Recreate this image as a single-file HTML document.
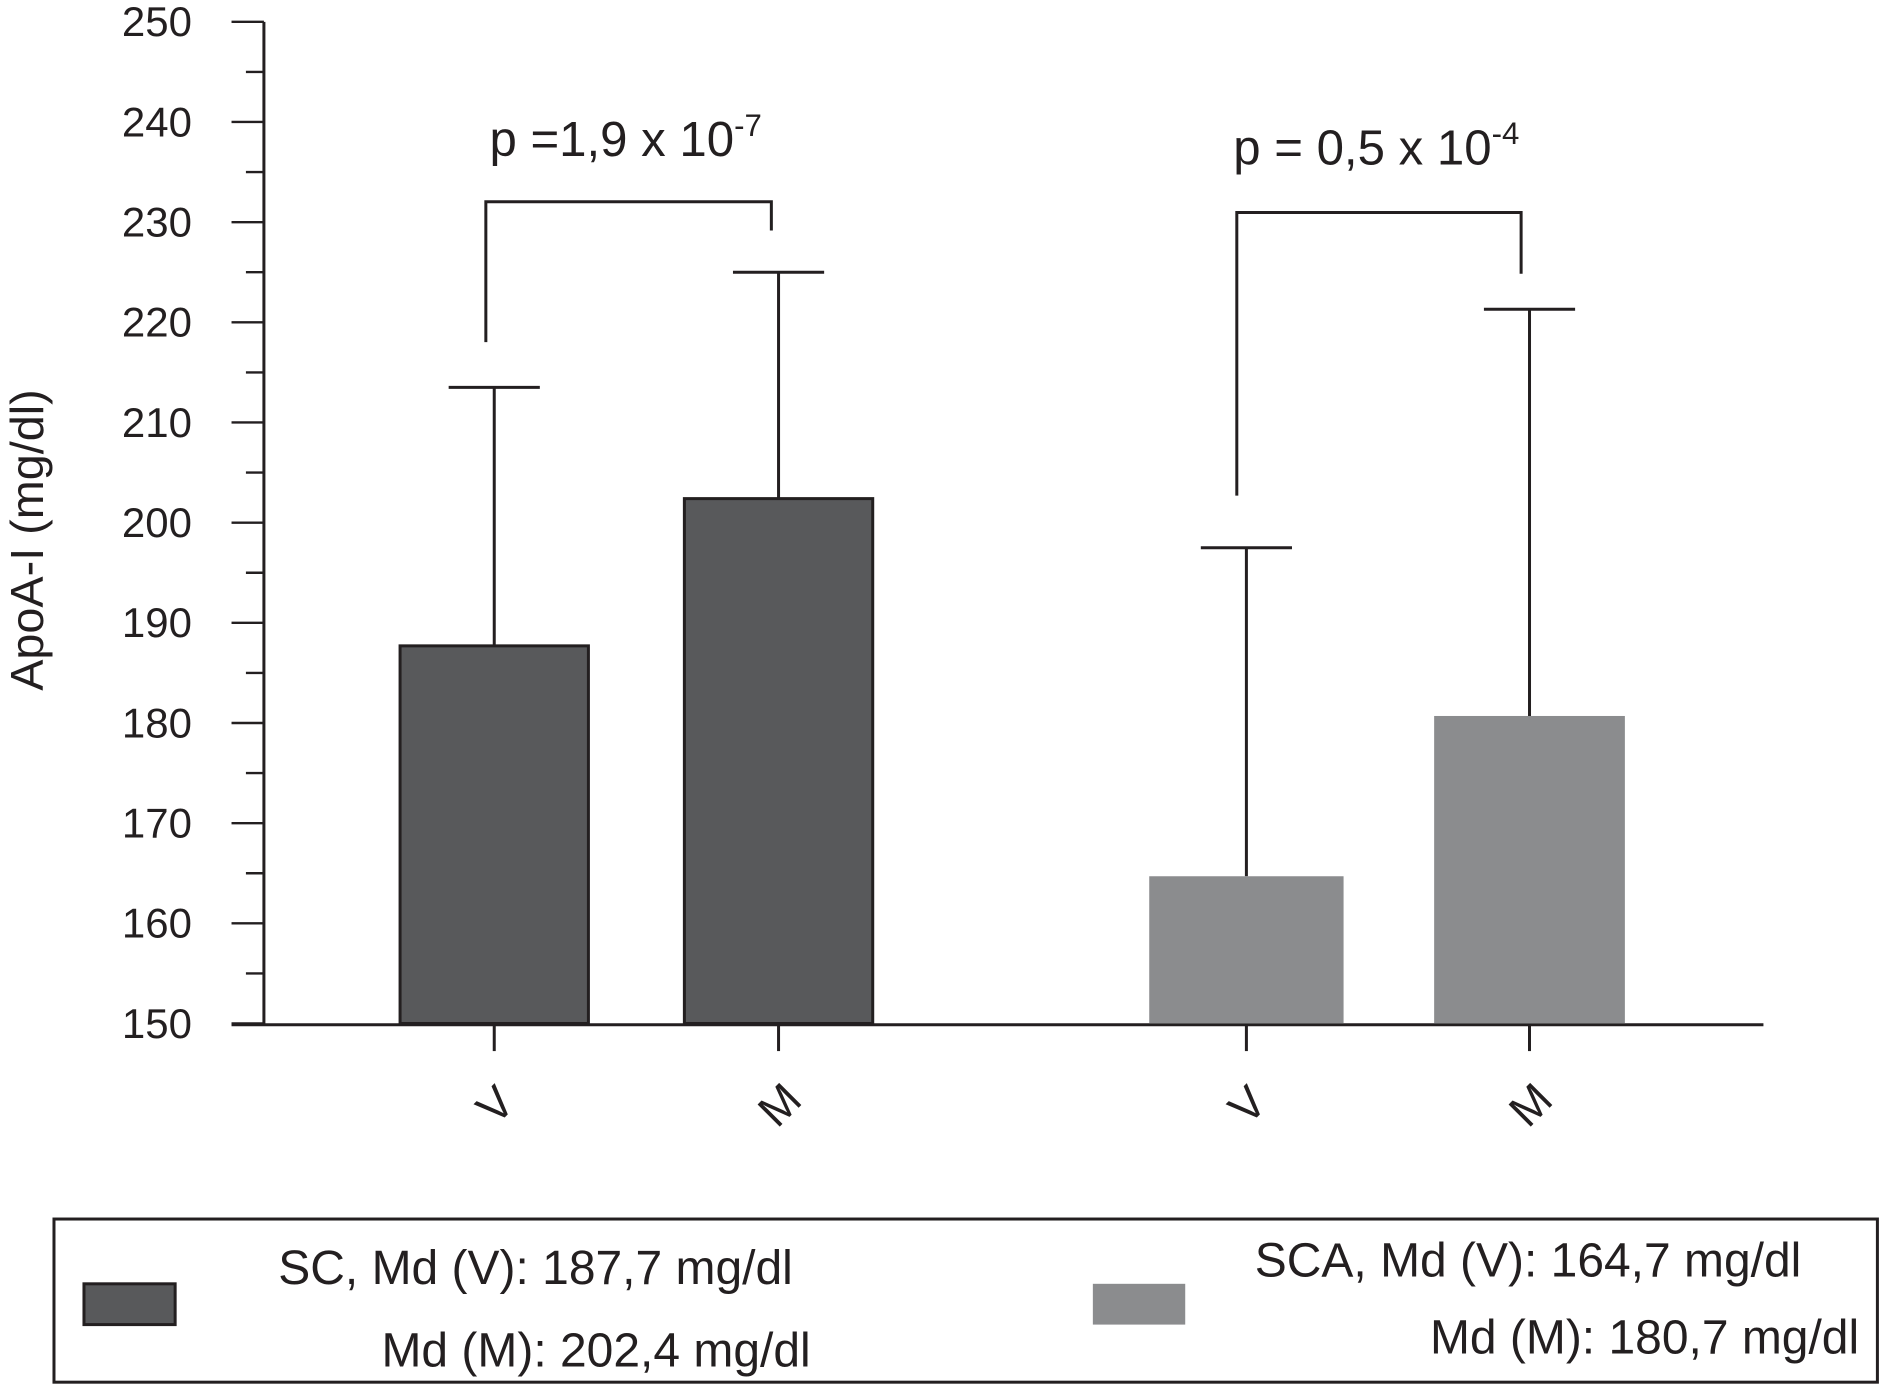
<!DOCTYPE html>
<html><head><meta charset="utf-8"><style>
html,body{margin:0;padding:0;background:#fff;}
svg{display:block;font-family:"Liberation Sans",Arial,sans-serif;}
</style></head><body>
<svg id="chart" width="1881" height="1386" viewBox="0 0 1568 1155" xmlns="http://www.w3.org/2000/svg">
<g id="axes"></g>
<g id="bars"></g>
<text transform="translate(36,450) rotate(-90)" text-anchor="middle" font-size="39" fill="#231f20">ApoA-I (mg/dl)</text>
<text x="408" y="130" font-size="41" fill="#231f20">p =1,9 x 10<tspan dy="-17" font-size="26">-7</tspan></text>
<text x="1028" y="137" font-size="41" fill="#231f20">p = 0,5 x 10<tspan dy="-17" font-size="26">-4</tspan></text>
<g>
<rect x="45" y="1016" width="1520" height="136" fill="none" stroke="#231f20" stroke-width="2.5"/>
<rect x="70" y="1070" width="76" height="34" fill="#58595b" stroke="#231f20" stroke-width="2.5"/>
<rect x="911" y="1070" width="77" height="34" fill="#8b8c8e"/>
<text x="232" y="1070" font-size="40" fill="#231f20">SC, Md (V): 187,7 mg/dl</text>
<text x="318" y="1139" font-size="40" fill="#231f20">Md (M): 202,4 mg/dl</text>
<text x="1046" y="1064" font-size="40" fill="#231f20">SCA, Md (V): 164,7 mg/dl</text>
<text x="1192" y="1128" font-size="40" fill="#231f20">Md (M): 180,7 mg/dl</text>
</g>
</svg>
<script>
const categories=["V","M","V","M"];
const groups=["SC","SC","SCA","SCA"];
const means=[187.7,202.4,164.7,180.7];
const errTops=[213.5,225,197.5,221.3];
const yTicks=[150,160,170,180,190,200,210,220,230,240,250];
const NS="http://www.w3.org/2000/svg";
const xc=[412,649,1039,1275];
const bw=[157,157,162,159];
function y(v){return 853-(v-150)*8.35;}
function mk(t,a,p){const e=document.createElementNS(NS,t);for(const k in a)e.setAttribute(k,a[k]);p.appendChild(e);return e;}
const ax=document.getElementById('axes'),bg=document.getElementById('bars');
const yl=mk('line',{x1:220,y1:y(250),x2:220,y2:854,stroke:'#231f20','stroke-width':2.5},ax);

const xl=mk('line',{x1:193,y1:854,x2:1470,y2:854,stroke:'#231f20','stroke-width':2.5},ax);

for(let v=150;v<=250;v+=5){
  const major=v%10===0;
  const t=mk('line',{x1:major?193:205,y1:y(v),x2:220,y2:y(v),stroke:'#231f20','stroke-width':2},ax);
  
}
yTicks.forEach(v=>{
  const t=mk('text',{x:160,y:y(v)+12,'text-anchor':'end','font-size':35,fill:'#231f20'},ax);
  t.textContent=v;
  
});
means.forEach((m,i)=>{
  const dark=groups[i]==="SC";
  const ev=mk('line',{x1:xc[i],y1:y(errTops[i]),x2:xc[i],y2:y(m),stroke:'#231f20','stroke-width':2.5},bg);
  
  const cap=mk('line',{x1:xc[i]-38,y1:y(errTops[i]),x2:xc[i]+38,y2:y(errTops[i]),stroke:'#231f20','stroke-width':2.5},bg);
  
  const r=mk('rect',{x:xc[i]-bw[i]/2,y:y(m),width:bw[i],height:853-y(m),fill:dark?'#58595b':'#8b8c8e',stroke:dark?'#231f20':'none','stroke-width':2.5},bg);
  
  
  const tk=mk('line',{x1:xc[i],y1:854,x2:xc[i],y2:876,stroke:'#231f20','stroke-width':2.5},ax);
  
  const lb=mk('text',{transform:`translate(${xc[i]+10},${930}) rotate(-45)`,'text-anchor':'middle','font-size':38,fill:'#231f20'},ax);
  lb.textContent=categories[i];
  
});
function bracket(x1,y1,x2,y2,top,name){
  const p=mk('path',{d:`M${x1},${y1} V${top} H${x2} V${y2}`,fill:'none',stroke:'#231f20','stroke-width':2.5},ax);
  
}
bracket(405,285,643,192,168,'significance-bracket-sc');
bracket(1031,413,1268,228,177,'significance-bracket-sca');
</script>
</body></html>
